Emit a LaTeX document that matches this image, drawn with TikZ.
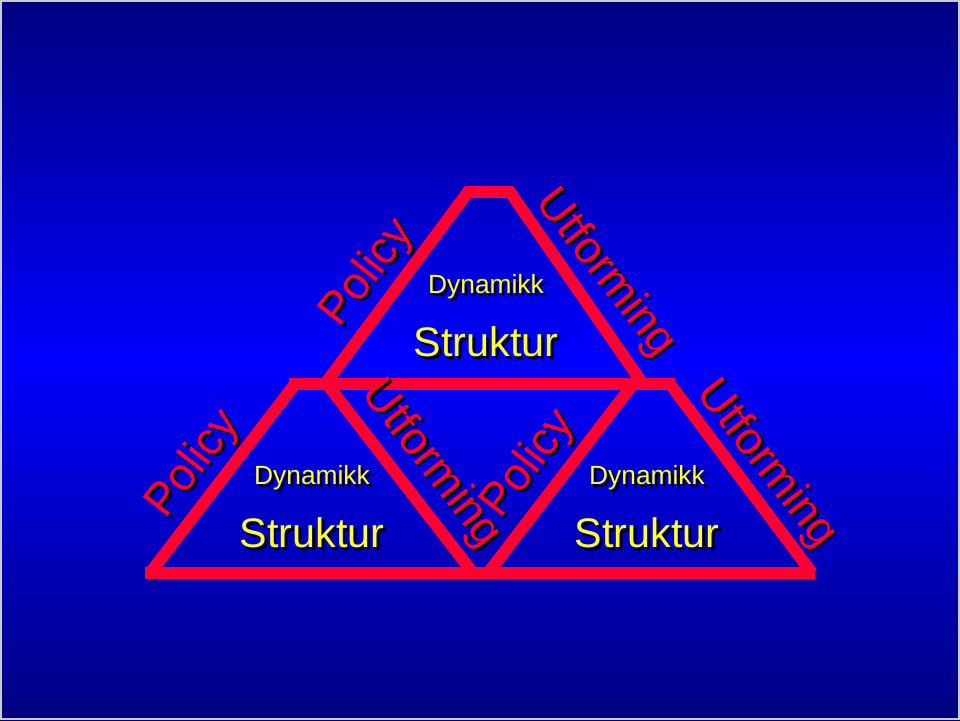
\documentclass[tikz,border=0pt]{standalone}
\usepackage{fontspec}
\setmainfont{Liberation Sans}
\definecolor{bgdark}{RGB}{0,0,128}
\definecolor{bgbright}{RGB}{0,0,255}
\definecolor{edgered}{RGB}{255,0,51}
\definecolor{textyellow}{RGB}{255,255,51}
\tikzset{
  edge/.style={draw=edgered, line width=6.8pt, line join=miter},
  sidelabel/.style={text=edgered, inner sep=0pt, font=\fontsize{26}{30}\selectfont},
  smalllabel/.style={text=textyellow, inner sep=0pt, font=\fontsize{15}{18}\selectfont},
  biglabel/.style={text=textyellow, inner sep=0pt, font=\fontsize{23.5}{28}\selectfont},
  drop/.style={xshift=1.5pt, yshift=-1.5pt},
}
\begin{document}
\begin{tikzpicture}[x=0.02cm, y=-0.02cm]
    \useasboundingbox (0,0) rectangle (960,720);
    \shade[top color=bgdark, bottom color=bgdark, middle color=bgbright] (0,0) rectangle (960,720);
    \draw[gray!40, line width=0.8pt] (1,1) rectangle (959,719);

    % red frame
    \draw[edge] (325,384) -- (468,192) -- (510,192) -- (643,384);
    \draw[edge] (289,384) -- (675,384);
    \draw[edge] (295,384) -- (150,573);
    \draw[edge] (327,384) -- (473,573);
    \draw[edge] (633,384) -- (488,573);
    \draw[edge] (670,384) -- (812,573);
    \draw[edge] (145,573) -- (815,573);

    % texts, shadow first
    \foreach \cx/\cy/\n in {486/287/top, 312/478/left, 647/478/right}{
    \node[drop, sidelabel, rotate=52, text=black] (pol-\n-s) at (\cx-118,\cy-14) {Policy};
    \node[sidelabel, rotate=52] (pol-\n) at (\cx-118,\cy-14) {Policy};
    \node[drop, sidelabel, rotate=-52, text=black] (utf-\n-s) at (\cx+119,\cy-14) {Utforming};
    \node[sidelabel, rotate=-52] (utf-\n) at (\cx+119,\cy-14) {Utforming};
    \node[drop, smalllabel, text=black] (dyn-\n-s) at (\cx,\cy) {Dynamikk};
    \node[smalllabel] (dyn-\n) at (\cx,\cy) {Dynamikk};
    \node[drop, biglabel, text=black] (str-\n-s) at (\cx,\cy+55) {Struktur};
    \node[biglabel] (str-\n) at (\cx,\cy+55) {Struktur};
    }
\end{tikzpicture}
\end{document}
